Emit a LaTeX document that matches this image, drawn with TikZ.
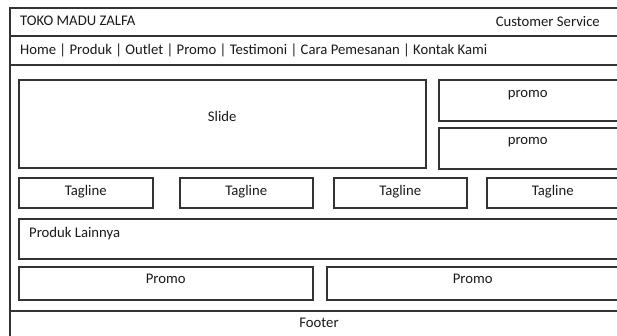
\documentclass[tikz,border=0pt]{standalone}
\usepackage{fontspec}
\setmainfont{Carlito}
\usetikzlibrary{positioning}

\begin{document}
\begin{tikzpicture}[
  x=1pt, y=-1pt,
  node distance=10pt,
  frame/.style={draw=black!80,line width=1.5pt},
  box/.style={draw=black!80,line width=1.5pt,anchor=north west,inner sep=0pt},
  txt/.style={font=\fontsize{14.7}{17}\selectfont,text=black!90,inner sep=0pt}
]
\useasboundingbox (0,0) rectangle (617,335);
\clip (0,0) rectangle (617,335);
% page frame
\draw[frame] (10,340) -- (10,8) -- (630,8);
\draw[frame] (10,36) -- (630,36);
\draw[frame] (10,65) -- (630,65);
\draw[frame] (10,311) -- (630,311);
\node[txt, anchor=west] (toko) at (20,21) {TOKO MADU ZALFA};
\node[txt, anchor=east] (cs) at (600,21) {Customer Service};
\node[txt, anchor=west] (menu) at (20,50) {Home | Produk | Outlet | Promo | Testimoni | Cara Pemesanan | Kontak Kami};
% content boxes
\node[box, minimum width=407, minimum height=88] (slide) at (18,79) {};
\node[box, minimum width=190, minimum height=41] (promoa) at (438,79) {};
\node[box, minimum width=190, minimum height=41] (promob) at (438,127) {};
\node[box, minimum width=134, minimum height=30] (taga) at (18,177) {};
\node[box, minimum width=133, minimum height=30] (tagb) at (179,177) {};
\node[box, minimum width=133, minimum height=30] (tagc) at (333,177) {};
\node[box, minimum width=140, minimum height=30] (tagd) at (486,177) {};
\node[box, minimum width=610, minimum height=40] (lain) at (18,218) {};
\node[box, minimum width=294, minimum height=33] (bawaha) at (18,266) {};
\node[box, minimum width=300, minimum height=33] (bawahb) at (326,266) {};
% labels
\node[txt, below=32pt of slide.north] (slidetxt) {Slide};
\node[txt, below=11pt of promoa.north, xshift=-6pt] (promoatxt) {promo};
\node[txt, below=10pt of promob.north, xshift=-6pt] (promobtxt) {promo};
\foreach \t in {taga,tagb,tagc}
  \node[txt, below=8pt of \t.north] (\t txt) {Tagline};
\node[txt, below=8pt of tagd.north, xshift=-4pt] (tagdtxt) {Tagline};
\node[txt, anchor=north west] (laintxt) at ([xshift=11pt,yshift=-9pt]lain.north west) {Produk Lainnya};
\node[txt, below=8pt of bawaha.north] (bawahatxt) {Promo};
\node[txt, below=8pt of bawahb.north, xshift=-4pt] (bawahbtxt) {Promo};
\node[txt] (footer) at (319,323) {Footer};
\end{tikzpicture}
\end{document}
